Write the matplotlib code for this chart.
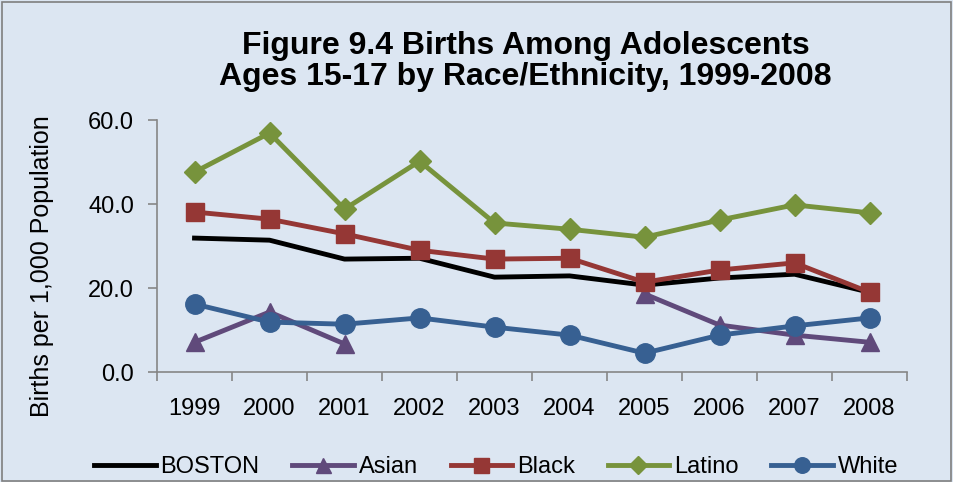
import matplotlib
matplotlib.use("Agg")
import matplotlib.pyplot as plt
import numpy as np
from matplotlib.patches import Rectangle

years = ["1999", "2000", "2001", "2002", "2003", "2004", "2005", "2006", "2007", "2008"]
boston = [31.9, 31.4, 26.9, 27.1, 22.6, 22.9, 20.7, 22.4, 23.3, 19.0]
asian = [7.1, 14.3, 6.7, None, None, None, 18.6, 11.2, 8.8, 7.1]
black = [38.1, 36.4, 32.9, 29.0, 26.9, 27.1, 21.4, 24.3, 26.0, 19.0]
latino = [47.6, 56.9, 38.8, 50.2, 35.5, 34.0, 32.1, 36.2, 39.8, 37.9]
white = [16.2, 11.9, 11.4, 12.9, 10.7, 8.8, 4.5, 8.8, 11.0, 12.9]

plt.rcParams['font.family'] = ['Liberation Sans', 'DejaVu Sans']
bg = "#DCE6F2"

fig = plt.figure(figsize=(9.54, 4.82), dpi=100, facecolor=bg)
ax = fig.add_axes([0.1646, 0.228, 0.7862, 0.523])
ax.set_facecolor(bg)

x = np.arange(len(years))
def arr(v):
    return np.array([np.nan if a is None else a for a in v], dtype=float)

lw = 3.5
ax.plot(x, arr(boston), color="#000000", lw=lw, label="BOSTON", zorder=3)
ax.plot(x, arr(asian), color="#604A7B", lw=lw, marker="^", ms=13.5, label="Asian", zorder=4)
ax.plot(x, arr(black), color="#953735", lw=lw, marker="s", ms=13.5, label="Black", zorder=5)
ax.plot(x, arr(latino), color="#77933C", lw=lw, marker="D", ms=11, label="Latino", zorder=6)
ax.plot(x, arr(white), color="#376092", lw=lw, marker="o", ms=14, label="White", zorder=7)

ax.set_xlim(-0.5, len(years) - 0.5)
ax.set_ylim(0, 60)
ax.set_yticks([0, 20, 40, 60])
ax.set_yticklabels([f"{v:.1f}" for v in [0, 20, 40, 60]], fontsize=17)
ax.set_xticks(np.arange(-0.5, len(years), 1.0))
ax.set_xticklabels([])
ax.set_xticks(x, minor=True)
ax.set_xticklabels(years, minor=True, fontsize=17)
ax.tick_params(axis="x", which="minor", length=0, pad=19)
ax.tick_params(axis="x", which="major", length=6.5, color="#868686", width=1.2, direction="out")
ax.tick_params(axis="y", length=6.5, color="#868686", width=1.2, direction="out", pad=10)
for s in ["top", "right"]:
    ax.spines[s].set_visible(False)
for s in ["left", "bottom"]:
    ax.spines[s].set_color("#868686")
    ax.spines[s].set_linewidth(1.2)

ax.set_ylabel("Births per 1,000 Population", fontsize=18)
ax.yaxis.set_label_coords(-0.137, 0.42)

fig.text(0.551, 0.935, "Figure 9.4 Births Among Adolescents\nAges 15-17 by Race/Ethnicity, 1999-2008",
         ha="center", va="top", fontsize=23, fontweight="bold", linespacing=1.05)

leg = fig.legend(loc="center", bbox_to_anchor=(0.52, 0.031), ncol=5, frameon=False,
                 fontsize=17, handlelength=2.6, columnspacing=1.4, handletextpad=0.2,
                 markerscale=0.8, borderpad=0)
fig.patches.append(Rectangle((0.002, 0.003), 0.995, 0.993, transform=fig.transFigure,
                             fill=False, edgecolor="#7F7F7F", lw=1.2))

fig.savefig("out.png", dpi=100, facecolor=bg)
